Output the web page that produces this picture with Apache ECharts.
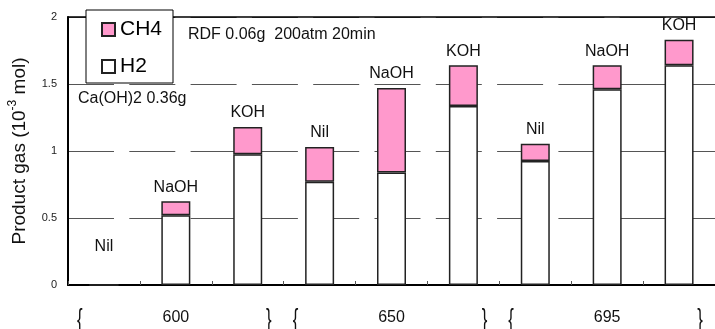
<!DOCTYPE html>
<html>
<head>
<meta charset="utf-8">
<script src="https://cdn.jsdelivr.net/npm/echarts@6/dist/echarts.min.js"></script>
<style>
html,body{margin:0;padding:0;background:#fff}
#chart{width:715px;height:329px}
</style>
</head>
<body>
<div id="chart"></div>
<script>
// alkali added in each run, three runs per temperature
var alkali = ['Nil', 'NaOH', 'KOH', 'Nil', 'NaOH', 'KOH', 'Nil', 'NaOH', 'KOH'];
var temps = ['600', '650', '695'];
var h2 = [0, 0.52, 0.975, 0.77, 0.84, 1.335, 0.925, 1.46, 1.64];
var ch4 = [0, 0.105, 0.205, 0.26, 0.63, 0.305, 0.13, 0.18, 0.19];

var pink = '#FF99CC';
var edge = '#222';
var font = 'Liberation Sans, Arial, sans-serif';

var chart = echarts.init(document.getElementById('chart'));

var ch4Data = ch4.map(function (v, i) {
  // empty bar: its label sits higher above the axis
  if (v + h2[i] === 0) return { value: v, label: { distance: 30 } };
  return v;
});

var option = {
  animation: false,
  textStyle: { fontFamily: font },
  grid: { left: 68, right: 0, top: 17, bottom: 44, outerBoundsMode: 'none' },
  legend: {
    data: ['CH4', 'H2'],
    orient: 'vertical',
    left: 86,
    top: 10,
    icon: 'rect',
    itemWidth: 13,
    itemHeight: 13,
    itemGap: 16,
    padding: [9, 11, 6, 15],
    backgroundColor: '#fff',
    borderColor: '#000',
    borderWidth: 1,
    borderRadius: 0,
    textStyle: { fontSize: 21, color: '#000', fontFamily: font }
  },
  xAxis: [{
    type: 'category',
    data: alkali,
    position: 'bottom',
    axisLine: { lineStyle: { color: '#000', width: 2 } },
    axisTick: { show: true, inside: true, length: 4, lineStyle: { color: '#555' } },
    axisLabel: { show: false }
  }, {
    type: 'category',
    data: temps,
    position: 'bottom',
    axisLine: { show: false },
    axisTick: { show: false },
    axisLabel: { margin: 25, fontSize: 16, color: '#111' }
  }, {
    type: 'category',
    data: alkali,
    position: 'top',
    axisLine: { lineStyle: { color: '#000', width: 1.5 } },
    axisTick: { show: false },
    axisLabel: { show: false }
  }],
  yAxis: {
    type: 'value',
    min: 0,
    max: 2,
    interval: 0.5,
    name: 'Product gas (10{sup|-3} mol)',
    nameLocation: 'middle',
    nameGap: 36,
    nameTextStyle: {
      fontSize: 19,
      color: '#111',
      rich: { sup: { fontSize: 12, padding: [0, 0, 13, 0], color: '#111' } }
    },
    axisLine: { show: true, lineStyle: { color: '#000', width: 2 } },
    axisTick: { show: false },
    axisLabel: { fontSize: 11, color: '#222', margin: 11 },
    splitLine: { lineStyle: { color: '#555', width: 1, type: [46, 15.3] } }
  },
  series: [{
    name: 'H2',
    type: 'bar',
    stack: 'gas',
    barWidth: 29,
    data: h2,
    itemStyle: { color: '#fff', borderColor: edge, borderWidth: 1.5 }
  }, {
    name: 'CH4',
    type: 'bar',
    stack: 'gas',
    barWidth: 29,
    data: ch4Data,
    itemStyle: { color: pink, borderColor: edge, borderWidth: 1.5 },
    label: {
      show: true,
      position: 'top',
      distance: 6,
      fontSize: 16,
      color: '#111',
      formatter: function (p) { return alkali[p.dataIndex]; }
    }
  }]
};
chart.setOption(option);

// braces around each temperature group
var graphics = [
  { type: 'text', left: 188, top: 27, style: { text: 'RDF 0.06g  200atm 20min', font: '16px ' + font, fill: '#111' } },
  { type: 'text', left: 78, top: 91, style: { text: 'Ca(OH)2 0.36g', font: '16px ' + font, fill: '#111' } }
];
temps.forEach(function (t, i) {
  var cx = chart.convertToPixel({ xAxisIndex: 1 }, i);
  [[cx - 96, '{'], [cx + 93, '}']].forEach(function (b) {
    graphics.push({
      type: 'text', x: b[0], y: 320, scaleX: 0.6,
      style: { text: b[1], font: '28px ' + font, fill: '#111', align: 'center', verticalAlign: 'middle' }
    });
  });
});
chart.setOption({ graphic: graphics });
</script>
</body>
</html>
